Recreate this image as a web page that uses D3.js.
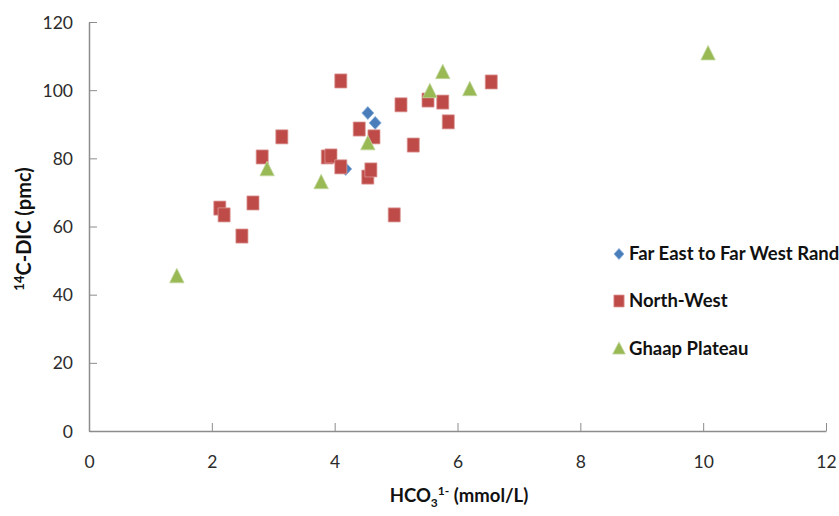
<!DOCTYPE html>
<html>
<head>
<meta charset="utf-8">
<script src="https://cdn.jsdelivr.net/npm/d3@7"></script>
<style>
  html, body { margin: 0; padding: 0; background: #fff; }
  svg { display: block; }
  text { font-family: Lato, "Open Sans", "Noto Sans", sans-serif; }
</style>
</head>
<body>
<svg id="chart" width="839" height="516"></svg>
<script>
// ---- data ----
const seriesNames = ["Far East to Far West Rand", "North-West", "Ghaap Plateau"];
const farEastX = [4.54, 4.66, 4.18];
const farEastY = [93.3, 90.4, 76.9];
const northWestX = [2.13, 2.20, 2.49, 2.67, 2.82, 3.14, 3.88, 3.94, 4.10, 4.10, 4.40, 4.54, 4.59, 4.64, 4.97, 5.08, 5.28, 5.52, 5.76, 5.85, 6.55];
const northWestY = [65.4, 63.4, 57.2, 66.9, 80.4, 86.3, 80.4, 80.7, 77.5, 102.7, 88.6, 74.5, 76.6, 86.3, 63.4, 95.7, 83.9, 97.1, 96.5, 90.7, 102.4];
const ghaapX = [1.43, 2.90, 3.78, 4.54, 5.55, 5.76, 6.20, 10.08];
const ghaapY = [44.9, 76.3, 72.5, 83.9, 99.2, 104.8, 99.8, 110.3];
const xTicks = [0, 2, 4, 6, 8, 10, 12];
const yTicks = [0, 20, 40, 60, 80, 100, 120];

// ---- layout ----
const svg = d3.select("#chart");
const mLeft = 89, mRight = 826, mTop = 22, mBottom = 431;
const x = d3.scaleLinear().domain([0, 12]).range([mLeft, mRight]);
const y = d3.scaleLinear().domain([0, 120]).range([mBottom, mTop]);
const axisColor = "#8c8c8c";

// axes
const gx = svg.append("g").attr("transform", `translate(0,${mBottom})`)
  .call(d3.axisBottom(x).tickValues(xTicks).tickSizeInner(-8).tickSizeOuter(0).tickPadding(25));
const gy = svg.append("g").attr("transform", `translate(${mLeft},0)`)
  .call(d3.axisLeft(y).tickValues(yTicks).tickSizeInner(-8).tickSizeOuter(0).tickPadding(16));
[gx, gy].forEach(g => {
  g.select(".domain").attr("stroke", axisColor).attr("stroke-width", 1.5);
  g.selectAll(".tick line").attr("stroke", axisColor).attr("stroke-width", 1);
  g.selectAll(".tick text").attr("fill", "#2b2b2b").style("font-size", "17.5px")
    .style("font-family", "Lato, 'Open Sans', sans-serif");
});
gy.selectAll(".tick text").attr("dy", "0.35em");

// axis titles
const xt = svg.append("text").attr("x", 459).attr("y", 502).attr("text-anchor", "middle")
  .attr("fill", "#111").style("font-size", "18.5px").style("font-weight", "bold");
xt.append("tspan").text("HCO");
xt.append("tspan").text("3").attr("dy", 5).style("font-size", "12px");
xt.append("tspan").text("1-").attr("dy", -12).style("font-size", "12px");
xt.append("tspan").text(" (mmol/L)").attr("dy", 7);

const yt = svg.append("text").attr("transform", "translate(31,229) rotate(-90)")
  .attr("text-anchor", "middle").attr("fill", "#111")
  .style("font-size", "20px").style("font-weight", "bold");
yt.append("tspan").text("14").attr("dy", -7).style("font-size", "13px");
yt.append("tspan").text("C-DIC (pmc)").attr("dy", 7);

// markers
const colors = ["#4a7ebb", "#be4b48", "#98b954"];
const strokes = ["#8aaedb", "#dc9a98", "#c2d79e"];
const symbols = [d3.symbolSquare, d3.symbolSquare, d3.symbolTriangle];
const rotations = [45, 0, 0];

function drawSeries(xs, ys, i, sx, sy, sz) {
  const g = svg.append("g");
  g.selectAll("path").data(xs.map((v, k) => [v, ys[k]])).join("path")
    .attr("d", d3.symbol().type(symbols[i]).size(sz))
    .attr("transform", d => `translate(${x(d[0])},${y(d[1])}) scale(${sx},${sy}) rotate(${rotations[i]})`)
    .attr("fill", colors[i]).attr("stroke", strokes[i]).attr("stroke-width", 0.8);
}
drawSeries(farEastX, farEastY, 0, 1.0, 1.08, 72);
drawSeries(northWestX, northWestY, 1, 0.9, 1.05, 180);
drawSeries(ghaapX, ghaapY, 2, 0.95, 1.1, 100);

// legend
const legY = [254, 301, 349];
const leg = svg.append("g");
seriesNames.forEach((name, i) => {
  const sz = [50, 130, 70][i];
  leg.append("path")
    .attr("d", d3.symbol().type(symbols[i]).size(sz))
    .attr("transform", `translate(619,${legY[i] + (i === 2 ? 1 : 0)}) scale(${i===1?0.9:1},${i===1?1.05:1.1}) rotate(${rotations[i]})`)
    .attr("fill", colors[i]).attr("stroke", strokes[i]).attr("stroke-width", 0.8);
  leg.append("text").attr("x", 629).attr("y", legY[i]).attr("dy", "0.35em")
    .attr("fill", "#111").style("font-size", "18.5px").style("font-weight", "bold")
    .text(name);
});
</script>
</body>
</html>
